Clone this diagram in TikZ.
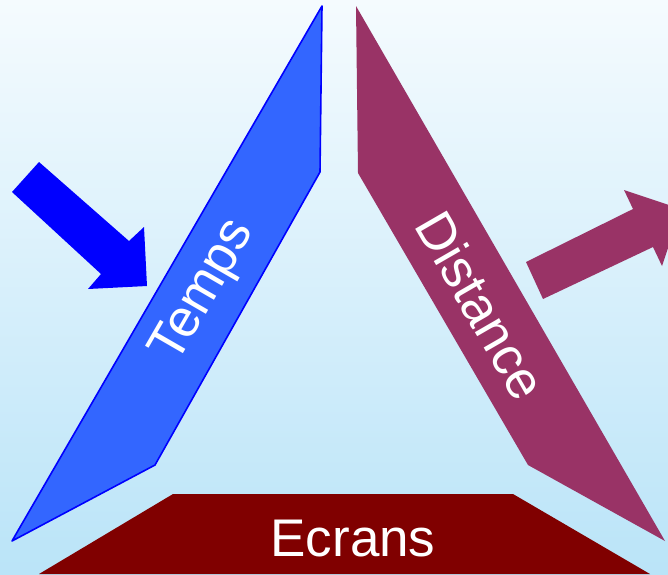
\documentclass[tikz,border=0pt]{standalone}
\usepackage{fontspec}
\setmainfont{Liberation Sans}
\definecolor{bgtop}{RGB}{245,251,254}
\definecolor{bgbot}{RGB}{186,228,248}
\definecolor{tempsfill}{RGB}{51,102,255}
\definecolor{tempsline}{RGB}{0,0,255}
\definecolor{distfill}{RGB}{153,51,102}
\definecolor{ecranfill}{RGB}{128,0,0}
\begin{document}
\begin{tikzpicture}[x=1pt,y=-1pt,
  lbl/.style={text=white,font=\fontsize{53}{53}\selectfont,inner sep=0pt}]
\useasboundingbox (0,0) rectangle (668,574);
\shade[top color=bgtop,bottom color=bgbot] (0,0) rectangle (668,574);
% Temps band
\draw[tempsline,line width=1.6pt,fill=tempsfill,line join=round]
  (322,6) -- (320,172) -- (155,465) -- (12,541) -- cycle;
% Distance band
\fill[distfill] (356,6) -- (358,173) -- (528,465) -- (665,541) -- cycle;
% Ecrans base
\fill[ecranfill] (173,494) -- (513,494) -- (650,574) -- (39,574) -- cycle;
% arrows
\fill[tempsline] (12,192) -- (39,162) -- (129,241) -- (144,227) -- (147,286) -- (88,289) -- (101,274) -- cycle;
\fill[distfill] (543,299) -- (526,262) -- (633,209) -- (624,190) -- (681,209) -- (662,266) -- (653,247) -- cycle;
% labels
\node[lbl,rotate=60] (temps) at (204,292) {Temps};
\node[lbl,rotate=-60] (dist) at (481,305) {Distance};
\node[lbl,anchor=base] (ecrans) at (353,556) {Ecrans};
\end{tikzpicture}
\end{document}
